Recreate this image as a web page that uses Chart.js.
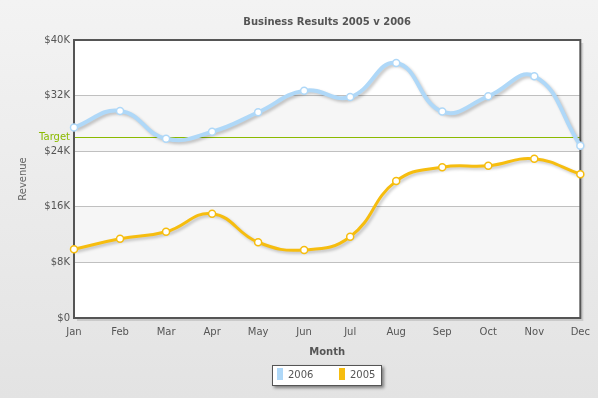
<!DOCTYPE html>
<html lang="en">
<head>
    <meta charset="UTF-8">
    <script src="https://cdn.jsdelivr.net/npm/chart.js@4.4.0/dist/chart.umd.min.js"></script>
    <title>Business Results 2005 v 2006</title>
    <style>
        body { margin: 0; }
        canvas { display: block; }
    </style>
</head>
<body>
    <canvas id="chart" width="598" height="398"></canvas>
    <script>

        // chart values
        const months = ['Jan', 'Feb', 'Mar', 'Apr', 'May', 'Jun', 'Jul', 'Aug', 'Sep', 'Oct', 'Nov', 'Dec'];
        const revenue2006 = [27400, 29800, 25800, 26800, 29600, 32700, 31800, 36700, 29700, 31900, 34800, 24800];
        const revenue2005 = [9900, 11400, 12400, 15000, 10900, 9800, 11700, 19700, 21700, 21900, 22900, 20700];
        const targetValue = 26000;
        const yTicks = [0, 8000, 16000, 24000, 32000, 40000];

        const FONT = '"DejaVu Sans", Verdana, sans-serif';
        const TEXT = '#555555';

        // shadow under the spline only, not under the anchors
        const LineEl = Chart.LineElement || Chart.elements.LineElement;
        const baseDraw = LineEl.prototype.draw;
        LineEl.prototype.draw = function (c, area) {
            c.save();
            c.shadowColor = 'rgba(0,0,0,0.22)';
            c.shadowOffsetX = 2;
            c.shadowOffsetY = 2;
            c.shadowBlur = 3;
            baseDraw.call(this, c, area);
            c.restore();
        };

        const decor = {
            id: 'decor',
            beforeDraw(chart) {
                const ctx = chart.ctx;
                const a = chart.chartArea;
                const y = chart.scales.y;
                ctx.save();
                const g = ctx.createLinearGradient(0, 0, 0, chart.height);
                g.addColorStop(0, '#f3f3f3');
                g.addColorStop(1, '#e3e3e3');
                ctx.fillStyle = g;
                ctx.fillRect(0, 0, chart.width, chart.height);
                // plot shadow
                ctx.fillStyle = 'rgba(0,0,0,0.12)';
                ctx.fillRect(a.left + 3, a.top + 3, a.right - a.left, a.bottom - a.top);
                ctx.fillStyle = '#ffffff';
                ctx.fillRect(a.left, a.top, a.right - a.left, a.bottom - a.top);
                // alternate bands
                ctx.fillStyle = '#f6f6f6';
                for (let i = 1; i < yTicks.length - 1; i += 2) {
                    const y0 = y.getPixelForValue(yTicks[i]);
                    const y1 = y.getPixelForValue(yTicks[i + 1]);
                    ctx.fillRect(a.left, y1, a.right - a.left, y0 - y1);
                }
                ctx.restore();
            },
            beforeDatasetsDraw(chart) {
                const ctx = chart.ctx;
                const a = chart.chartArea;
                const ty = Math.round(chart.scales.y.getPixelForValue(targetValue)) + 0.5;
                ctx.save();
                ctx.strokeStyle = '#8bba00';
                ctx.lineWidth = 1;
                ctx.beginPath();
                ctx.moveTo(a.left, ty);
                ctx.lineTo(a.right, ty);
                ctx.stroke();
                ctx.fillStyle = '#8bba00';
                ctx.font = '10px ' + FONT;
                ctx.textAlign = 'right';
                ctx.textBaseline = 'middle';
                ctx.fillText('Target', a.left - 4, ty);
                ctx.strokeStyle = '#555555';
                ctx.lineWidth = 2;
                ctx.strokeRect(a.left, a.top, a.right - a.left, a.bottom - a.top);
                ctx.restore();
            },
            afterDraw(chart) {
                const ctx = chart.ctx;
                const a = chart.chartArea;
                const cx = (a.left + a.right) / 2;
                ctx.save();
                ctx.fillStyle = TEXT;
                ctx.textAlign = 'center';
                ctx.textBaseline = 'middle';
                ctx.font = 'bold 10px ' + FONT;
                ctx.fillText('Business Results 2005 v 2006', cx, 22);
                ctx.fillText('Month', cx, 352);
                ctx.save();
                ctx.translate(23, (a.top + a.bottom) / 2);
                ctx.rotate(-Math.PI / 2);
                ctx.fillStyle = '#666666';
                ctx.font = '10px ' + FONT;
                ctx.fillText('Revenue', 0, 0);
                ctx.restore();

                // legend
                const w = 110, h = 21;
                const lx = Math.round(cx - w / 2), ly = 365;
                ctx.save();
                ctx.shadowColor = 'rgba(0,0,0,0.45)';
                ctx.shadowOffsetX = 2;
                ctx.shadowOffsetY = 2;
                ctx.shadowBlur = 3;
                ctx.fillStyle = '#ffffff';
                ctx.fillRect(lx, ly, w, h);
                ctx.restore();
                ctx.strokeStyle = '#555555';
                ctx.lineWidth = 1;
                ctx.strokeRect(lx + 0.5, ly + 0.5, w - 1, h - 1);
                ctx.font = '10px ' + FONT;
                ctx.textAlign = 'left';
                chart.data.datasets.forEach((ds, i) => {
                    const x = lx + 5 + i * 62;
                    ctx.fillStyle = ds.borderColor;
                    ctx.fillRect(x, ly + 3, 6, 12);
                    ctx.fillStyle = TEXT;
                    ctx.fillText(ds.label, x + 11, ly + 10);
                });
                ctx.restore();
            }
        };

        const ctx = document.getElementById('chart').getContext('2d');
        const chart = new Chart(ctx, {
            type: 'line',
            data: {
                labels: months,
                datasets: [{
                    label: '2006',
                    data: revenue2006,
                    borderColor: '#afd8f8',
                    borderWidth: 4,
                    pointBackgroundColor: '#ffffff',
                    pointBorderColor: '#afd8f8',
                    pointBorderWidth: 1.5,
                    pointRadius: 3.5,
                    tension: 0.45,
                    clip: 8
                }, {
                    label: '2005',
                    data: revenue2005,
                    borderColor: '#f6bd0f',
                    borderWidth: 3,
                    pointBackgroundColor: '#ffffff',
                    pointBorderColor: '#f6bd0f',
                    pointBorderWidth: 1.5,
                    pointRadius: 3.5,
                    tension: 0.45,
                    clip: 8
                }]
            },
            options: {
                responsive: false,
                animation: false,
                layout: { padding: { top: 40, right: 15, bottom: 0, left: 0 } },
                plugins: {
                    legend: { display: false },
                    title: { display: false },
                    tooltip: { enabled: false }
                },
                scales: {
                    x: {
                        grid: { display: false, drawTicks: false },
                        border: { display: false },
                        ticks: {
                            color: TEXT,
                            font: { family: FONT, size: 10 },
                            padding: 8,
                            maxRotation: 0,
                            autoSkip: false
                        },
                        afterFit(scale) { scale.height = 80; }
                    },
                    y: {
                        min: 0,
                        max: 40000,
                        grid: { color: '#c0c0c0', drawTicks: false },
                        border: { display: false },
                        afterBuildTicks(scale) {
                            scale.ticks = yTicks.map(v => ({ value: v }));
                        },
                        ticks: {
                            color: TEXT,
                            font: { family: FONT, size: 10 },
                            padding: 4,
                            callback: v => v === 0 ? '$0' : '$' + (v / 1000) + 'K'
                        },
                        afterFit(scale) { scale.width = 74; }
                    }
                }
            },
            plugins: [decor]
        });

    </script>
</body>
</html>
